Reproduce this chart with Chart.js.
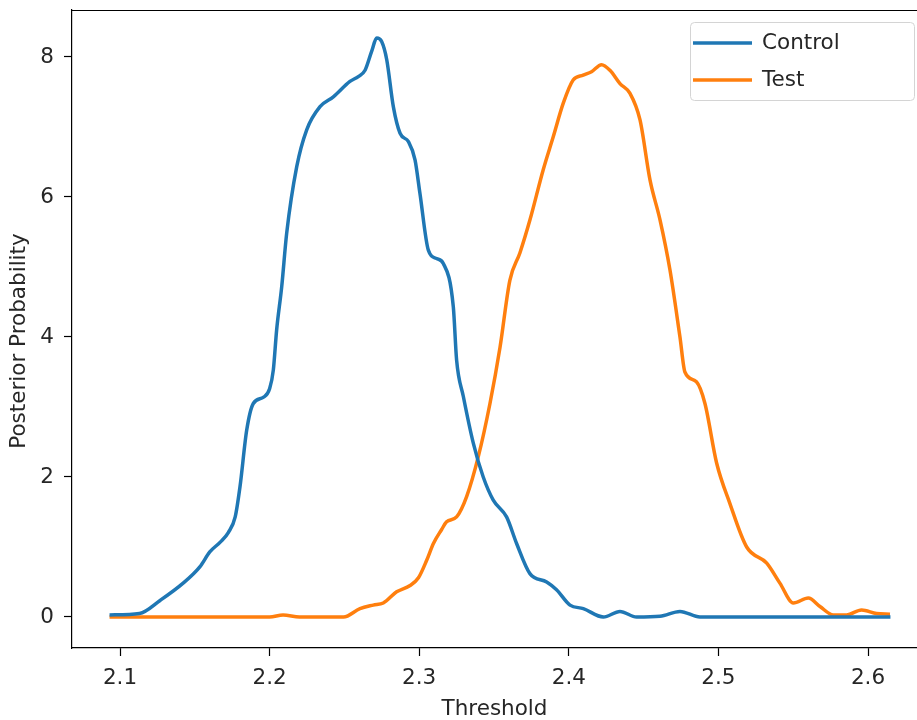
<!DOCTYPE html>
<html>
<head>
<meta charset="utf-8">
<script src="https://cdn.jsdelivr.net/npm/chart.js@4/dist/chart.umd.min.js"></script>
<style>
  html, body { margin: 0; padding: 0; background: #ffffff; }
  #wrap { width: 917px; height: 720px; position: relative; }
</style>
</head>
<body>
<div id="wrap"><canvas id="c" width="917" height="720"></canvas></div>
<script>
// ---- Data ----
const seriesLabels = ["Control", "Test"];

const controlX = [2.093, 2.113, 2.127, 2.142, 2.1535, 2.160, 2.167, 2.1725, 2.177, 2.1802, 2.1847, 2.1891, 2.196, 2.200, 2.2025, 2.2047,
  2.2081, 2.2114, 2.2181, 2.2248, 2.2337, 2.2426, 2.2537, 2.2593, 2.2638, 2.2682, 2.2716, 2.2749, 2.2783, 2.2827, 2.2872, 2.2928,
  2.2972, 2.3005, 2.3061, 2.3116, 2.3161, 2.3228, 2.325, 2.3295, 2.3362, 2.3428, 2.3495, 2.3584, 2.3651, 2.374, 2.3852, 2.3918,
  2.4008, 2.4097, 2.4231, 2.4342, 2.4453, 2.461, 2.4743, 2.4877, 2.52, 2.56, 2.615];
const controlY = [0.03, 0.05, 0.24, 0.48, 0.72, 0.93, 1.07, 1.21, 1.43, 1.86, 2.67, 3.05, 3.14, 3.26, 3.53, 4.10,
  4.72, 5.48, 6.43, 6.96, 7.29, 7.43, 7.65, 7.72, 7.81, 8.08, 8.27, 8.22, 7.96, 7.29, 6.91, 6.79,
  6.53, 6.05, 5.24, 5.12, 5.05, 4.43, 3.67, 3.15, 2.48, 2.00, 1.67, 1.43, 1.05, 0.62, 0.50, 0.39,
  0.17, 0.12, 0.00, 0.08, 0.00, 0.01, 0.08, 0.00, 0.00, 0.00, 0.00];

const testX = [2.093, 2.15, 2.20, 2.209, 2.22, 2.235, 2.2494, 2.2604, 2.2693, 2.276, 2.2849, 2.2939, 2.2995, 2.305, 2.3095, 2.315,
  2.3183, 2.325, 2.3317, 2.3395, 2.3473, 2.354, 2.3606, 2.3673, 2.374, 2.3829, 2.3896, 2.3963, 2.4029, 2.4096, 2.4152, 2.4219,
  2.4275, 2.4342, 2.4409, 2.4476, 2.4543, 2.461, 2.4676, 2.4743, 2.4776, 2.4853, 2.491, 2.4988, 2.5077, 2.5189, 2.5323, 2.5412,
  2.5501, 2.5601, 2.5679, 2.5768, 2.5857, 2.5957, 2.6057, 2.6147];
const testY = [0.00, 0.00, 0.00, 0.03, 0.00, 0.00, 0.00, 0.12, 0.17, 0.20, 0.36, 0.45, 0.56, 0.81, 1.05, 1.25,
  1.36, 1.43, 1.72, 2.29, 3.05, 3.85, 4.81, 5.20, 5.67, 6.39, 6.86, 7.34, 7.67, 7.74, 7.79, 7.89,
  7.81, 7.62, 7.48, 7.10, 6.24, 5.67, 4.96, 4.00, 3.50, 3.36, 3.05, 2.20, 1.62, 1.00, 0.77, 0.48,
  0.20, 0.27, 0.15, 0.03, 0.03, 0.10, 0.05, 0.04];

const xTicks = [2.1, 2.2, 2.3, 2.4, 2.5, 2.6];
const yTicks = [0, 2, 4, 6, 8];
const xTitle = "Threshold";
const yTitle = "Posterior Probability";
const colors = ["#1f77b4", "#ff7f0e"];

// ---- Build ----
function pts(xs, ys) { return xs.map((x, i) => ({ x: x, y: ys[i] })); }

const FONT = "'DejaVu Sans', sans-serif";
const FS = 21.5;

const frameAndLegend = {
  id: 'frameAndLegend',
  afterDraw(chart) {
    const ctx = chart.ctx;
    const a = chart.chartArea;
    ctx.save();
    // top frame line
    ctx.strokeStyle = '#000';
    ctx.lineWidth = 1.2;
    ctx.beginPath();
    ctx.moveTo(a.left, a.top + 0.5);
    ctx.lineTo(a.right, a.top + 0.5);
    ctx.stroke();
    // y axis title
    ctx.save();
    ctx.translate(19, (a.top + a.bottom) / 2 + 12);
    ctx.rotate(-Math.PI / 2);
    ctx.fillStyle = '#262626';
    ctx.font = FS + "px " + FONT;
    ctx.textAlign = 'center';
    ctx.textBaseline = 'middle';
    ctx.fillText(yTitle, 0, 0);
    ctx.restore();
    // legend
    const bx = 690.5, by = 22.5, bw = 224, bh = 78, r = 4;
    ctx.fillStyle = 'rgba(255,255,255,0.9)';
    ctx.strokeStyle = '#d4d4d4';
    ctx.lineWidth = 1;
    ctx.beginPath();
    ctx.moveTo(bx + r, by);
    ctx.lineTo(bx + bw - r, by);
    ctx.arcTo(bx + bw, by, bx + bw, by + r, r);
    ctx.lineTo(bx + bw, by + bh - r);
    ctx.arcTo(bx + bw, by + bh, bx + bw - r, by + bh, r);
    ctx.lineTo(bx + r, by + bh);
    ctx.arcTo(bx, by + bh, bx, by + bh - r, r);
    ctx.lineTo(bx, by + r);
    ctx.arcTo(bx, by, bx + r, by, r);
    ctx.closePath();
    ctx.fill();
    ctx.stroke();
    const rows = [43, 80];
    chart.data.datasets.forEach((ds, i) => {
      ctx.strokeStyle = ds.borderColor;
      ctx.lineWidth = 3.5;
      ctx.beginPath();
      ctx.moveTo(693, rows[i]);
      ctx.lineTo(752, rows[i]);
      ctx.stroke();
      ctx.fillStyle = '#262626';
      ctx.font = FS + "px " + FONT;
      ctx.textBaseline = 'middle';
      ctx.textAlign = 'left';
      ctx.fillText(ds.label, 762, rows[i]);
    });
    ctx.restore();
  }
};

new Chart(document.getElementById('c'), {
  type: 'line',
  data: {
    datasets: [
      { label: seriesLabels[0], data: pts(controlX, controlY), borderColor: colors[0], backgroundColor: colors[0],
        borderWidth: 3.5, pointRadius: 0, cubicInterpolationMode: 'monotone', fill: false },
      { label: seriesLabels[1], data: pts(testX, testY), borderColor: colors[1], backgroundColor: colors[1],
        borderWidth: 3.5, pointRadius: 0, cubicInterpolationMode: 'monotone', fill: false }
    ]
  },
  options: {
    responsive: false,
    animation: false,
    devicePixelRatio: 1,
    layout: { padding: { left: 0, top: 10, right: 0, bottom: 0 } },
    plugins: { legend: { display: false }, tooltip: { enabled: false } },
    scales: {
      x: {
        type: 'linear',
        min: 2.06791,
        max: 2.63275,
        afterBuildTicks: (s) => { s.ticks = xTicks.map(v => ({ value: v })); },
        afterFit: (s) => { s.height = 72; s.paddingLeft = 0; s.paddingRight = 0; },
        grid: { display: true, drawOnChartArea: false, drawTicks: true, tickLength: 8, tickColor: '#000', tickWidth: 1.2 },
        border: { display: true, color: '#000', width: 1.2 },
        ticks: { color: '#262626', font: { family: FONT, size: FS }, padding: 10, maxRotation: 0,
                 callback: (v) => v.toFixed(1) },
        title: { display: true, text: xTitle, color: '#262626', font: { family: FONT, size: FS, lineHeight: 1.0 }, padding: { top: 0, bottom: 0 } }
      },
      y: {
        type: 'linear',
        min: -0.4429,
        max: 8.671,
        afterBuildTicks: (s) => { s.ticks = yTicks.map(v => ({ value: v })); },
        afterFit: (s) => { s.width = 72; s.paddingTop = 0; s.paddingBottom = 0; },
        grid: { display: true, drawOnChartArea: false, drawTicks: true, tickLength: 8, tickColor: '#000', tickWidth: 1.2 },
        border: { display: true, color: '#000', width: 1.2 },
        ticks: { color: '#262626', font: { family: FONT, size: FS }, padding: 10,
                 callback: (v) => String(v) },
        title: { display: false }
      }
    }
  },
  plugins: [frameAndLegend]
});
</script>
</body>
</html>
